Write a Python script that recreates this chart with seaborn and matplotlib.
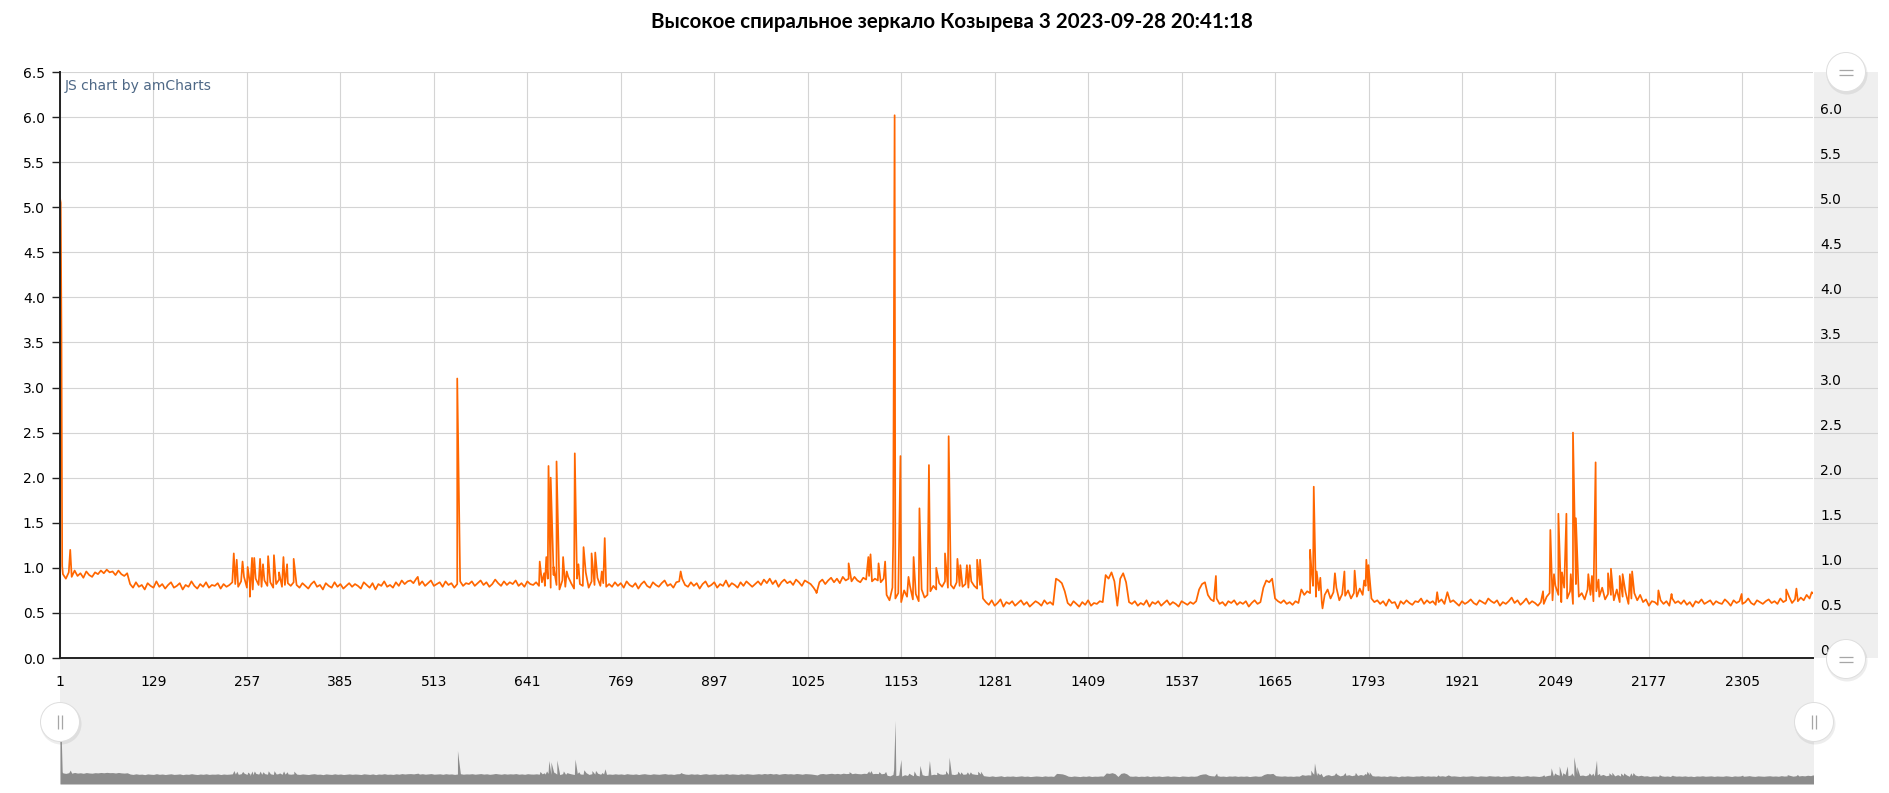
import numpy as np
import matplotlib
matplotlib.use("Agg")
import matplotlib.pyplot as plt
from matplotlib.patches import Circle
import seaborn as sns

# ---------------- data (values in hundredths, sampled every 4th point) ----------------
title = "Высокое спиральное зеркало Козырева 3 2023-09-28 20:41:18"

base_0001 = [510, 93, 88, 95, 90, 97, 91, 94, 89, 96, 92, 90, 95, 93, 97, 94, 98, 95, 96, 92, 97, 93, 91, 94,
             82, 78, 84, 79, 81, 76, 83, 80, 78, 85, 79, 82, 77, 81, 84, 78, 80, 83, 76, 81, 79, 85, 80, 77,
             82, 79, 84, 78, 81, 80, 83, 77, 82, 79, 81, 84]
base_0241 = [82, 79, 85, 90, 78, 83, 76, 88, 81, 79, 86, 80, 84, 78, 82, 87, 79, 81, 83, 80, 84,
             81, 78, 83, 80, 77, 82, 85, 79, 81, 76, 83, 80, 78, 84, 79, 82, 77, 80, 83,
             79, 82, 80, 77, 84, 81, 78, 83, 76, 82, 80, 85, 79, 81, 78, 84, 80, 86, 82, 85,
             86, 83, 88, 81, 85, 80, 83, 86, 80, 82, 84, 79, 85, 81, 83, 78, 82, 85, 80, 83,
             82, 85, 80, 83, 86, 81, 84, 79, 82, 87, 83, 80, 85, 81, 84, 82, 86, 80, 83, 79, 85, 82, 81, 84, 80]
base_0661 = [84, 80, 88, 78, 92, 81, 76, 86, 79, 90, 83, 77, 88, 82, 80, 95, 78, 85, 81, 89, 80, 83, 79,
             82, 79, 84, 80, 83, 78, 85, 81, 79, 83, 77, 82, 85, 80, 78, 84, 81, 79, 83, 86, 80, 82, 78, 84, 85,
             88, 81, 79, 84, 80, 83, 77, 82, 85, 79, 81, 84, 78, 82, 80, 86, 79, 83, 81, 78, 84, 80, 85, 82, 79,
             82, 85, 81, 87, 83, 88, 82, 86, 79, 84, 87, 83, 85, 81, 87, 84, 80, 86, 84, 82,
             78, 73, 84, 87, 82, 86, 89, 84, 88, 83, 90, 86,
             88, 85, 90, 86, 84, 89, 87, 91, 85, 88, 86, 84, 88]
base_1133 = [70, 64, 78, 66, 72, 62, 75, 68, 80, 65, 71, 63, 76, 67, 70, 74,
             80, 76, 83, 79, 85, 78, 81, 77, 84, 80, 79, 82, 78, 85, 80, 77, 81, 66,
             62, 59, 64, 58, 61, 65, 57, 62, 60, 63, 58, 61, 64, 59, 62, 57, 60, 63, 61, 58, 64, 60, 62, 59,
             88, 86, 83, 74,
             61, 58, 63, 60, 57, 62, 59, 64, 58, 61, 60, 63, 62,
             92, 88, 95, 85, 58, 88, 94, 84, 62]
base_1469 = [60, 63, 58, 61, 59, 64, 57, 62, 60, 63, 58, 61, 64, 59, 62, 60, 57, 63, 61, 59, 62, 60, 63,
             76, 82, 84, 70,
             65, 63, 66, 60, 62, 58, 63, 61, 64, 59, 62, 60, 63, 57, 61, 64, 60, 62,
             78, 86, 84, 88, 66,
             63, 61, 64, 60, 62, 59, 63, 61, 76,
             70, 74, 72, 80, 68, 75, 62, 70, 76, 66, 73, 78, 64, 71, 69, 75, 66, 72, 68, 77, 70, 80, 75]
base_1797 = [66, 62, 64, 60, 63, 58, 65, 61, 62, 55, 63, 60, 64, 61, 59, 63, 62, 66, 60, 64,
             61, 63, 59, 62, 65, 60, 73, 62, 64, 61, 58, 63, 60, 62, 65, 61, 59, 64, 62, 60,
             66, 63, 61, 64, 58, 62, 60, 63, 67, 61, 64, 59, 62, 66, 60, 63, 61, 58, 62, 60,
             68, 72, 64, 80, 70, 62, 78, 66, 74, 60, 82, 68, 72, 65, 76, 70, 63, 74, 68, 78, 65, 71,
             70, 64, 76, 62, 68, 73, 60, 66, 72, 64, 70, 62, 65, 58, 63]
base_2185 = [62, 59, 64, 60, 63, 58, 66, 61, 63, 60, 64, 59, 62, 57, 63, 61, 65, 60, 62, 64,
             59, 63, 61, 60, 65, 62, 58, 64, 61, 63, 60, 62, 66, 61, 59, 64, 62, 60, 63, 65,
             61, 63, 60, 66, 62, 64, 68, 61, 65, 63, 67, 64, 70, 66, 72]
base_starts = [1, 241, 661, 1133, 1469, 1797, 2185]

spike_idx = [2, 3, 4, 15,
             239, 243, 251, 258, 261, 264, 267, 275, 279, 286, 294, 301, 307, 312, 321,
             491, 545,
             658, 664, 667, 670, 673, 677, 681, 690, 695, 706, 711, 718, 729, 734, 743, 747,
             851, 1037, 1081, 1108, 1111,
             1122, 1131, 1142, 1144, 1152, 1163, 1170, 1178, 1191, 1201, 1213, 1218, 1230, 1234,
             1243, 1247, 1257, 1261,
             1584,
             1713, 1715, 1718, 1722, 1727, 1730, 1747, 1760, 1774, 1787, 1790, 1793,
             1887,
             2032, 2042, 2047, 2053, 2058, 2064, 2070, 2073, 2077, 2080, 2094, 2099, 2104, 2108,
             2121, 2125, 2137, 2141, 2151, 2154,
             2190, 2208, 2304, 2365, 2379, 2400]
spike_val = [5.05, 3.60, 1.02, 1.20,
             1.16, 1.09, 1.07, 1.01, 0.68, 1.11, 1.11, 1.10, 1.04, 1.13, 1.14, 0.95, 1.12, 1.04, 1.10,
             0.90, 3.10,
             1.07, 0.94, 1.12, 2.13, 2.00, 1.01, 2.18, 1.12, 0.96, 2.27, 1.04, 1.23, 1.16, 1.17, 0.96, 1.33,
             0.96, 0.72, 1.05, 1.12, 1.15,
             1.05, 1.07, 1.27, 6.02, 2.24, 0.90, 1.12, 1.66, 2.14, 1.00, 1.16, 2.46, 1.10, 1.03,
             1.03, 1.03, 1.09, 1.09,
             0.91,
             1.20, 0.96, 1.90, 0.96, 0.89, 0.55, 0.94, 0.96, 0.97, 0.86, 1.09, 1.03,
             0.73,
             0.74, 1.42, 0.93, 1.60, 0.95, 1.60, 0.93, 2.50, 1.55, 0.91, 0.93, 0.91, 2.17, 0.87,
             0.94, 0.99, 0.91, 0.93, 0.93, 0.96,
             0.75, 0.71, 0.71, 0.76, 0.77, 0.73]

x_ticks = [1, 129, 257, 385, 513, 641, 769, 897, 1025, 1153, 1281, 1409, 1537, 1665, 1793, 1921, 2049, 2177, 2305]
y_ticks = [0.0, 0.5, 1.0, 1.5, 2.0, 2.5, 3.0, 3.5, 4.0, 4.5, 5.0, 5.5, 6.0, 6.5]
right_ticks = [0.5, 1.0, 1.5, 2.0, 2.5, 3.0, 3.5, 4.0, 4.5, 5.0, 5.5, 6.0]

# ---------------- assemble series ----------------
bases = [base_0001, base_0241, base_0661, base_1133, base_1469, base_1797, base_2185]
xs_l, ys_l = [], []
for st, vals in zip(base_starts, bases):
    xs_l.append(st + 4 * np.arange(len(vals)))
    ys_l.append(np.array(vals) / 100.0)
xs_l.append(np.array(spike_idx))
ys_l.append(np.array(spike_val))
xs = np.concatenate(xs_l).astype(float)
ys = np.concatenate(ys_l)
order = np.argsort(xs, kind="stable")
xs, ys = xs[order], ys[order]

# ---------------- figure ----------------
W, H = 1889, 793
fig = plt.figure(figsize=(W / 100, H / 100), dpi=100)
fig.patch.set_facecolor("white")

def fx(px):
    return px / W

def fy(py):
    return 1 - py / H

X0, X1, Y0, Y1 = 60, 1813, 72, 658
XMAX = 1 + (X1 - X0) / 0.7302
GRID = "#d4d4d4"
FS = 10

# scrollbar background + mini graph
axs = fig.add_axes([fx(X0), fy(784), fx(1814) - fx(X0), fy(658) - fy(784)], zorder=1)
axs.set_facecolor("#efefef")
axs.set_xlim(1, XMAX)
axs.set_ylim(-0.15, -0.15 + 126 / 10.3)
axs.fill_between(xs, -0.15, ys, color="#8c8c8c", lw=0)
axs.set_xticks([]); axs.set_yticks([])
for s in axs.spines.values():
    s.set_visible(False)

# right grey value panel
axr = fig.add_axes([fx(1814), fy(Y1), fx(1878) - fx(1814), fy(Y0) - fy(Y1)], zorder=1)
axr.set_facecolor("#efefef")
axr.set_xlim(0, 1); axr.set_ylim(0, 6.5)
for v in right_ticks:
    axr.axhline(v, color=GRID, lw=0.8)
axr.set_xticks([]); axr.set_yticks([])
for s in axr.spines.values():
    s.set_visible(False)
for v in right_ticks:
    axr.text(0.1, v + 3 / 90.15, f"{v:.1f}", ha="left", va="baseline", fontsize=FS,
             family="DejaVu Sans", color="#000000")
axr.text(0.1, 3 / 90.15, "0", ha="left", va="baseline", fontsize=FS, family="DejaVu Sans", color="#000000")

# main chart
ax = fig.add_axes([fx(X0), fy(Y1), fx(X1) - fx(X0), fy(Y0) - fy(Y1)], zorder=3)
ax.set_facecolor("white")
sns.lineplot(x=xs, y=ys, ax=ax, color="#FF6600", linewidth=1.25, estimator=None, sort=False, errorbar=None)
ax.set_xlim(1, XMAX)
ax.set_ylim(0, 6.5)
ax.set_xticks(x_ticks)
ax.set_xticklabels([str(t) for t in x_ticks])
ax.set_yticks(y_ticks)
ax.set_yticklabels([f"{v:.1f}" for v in y_ticks])
ax.grid(True, color=GRID, lw=0.8)
ax.set_axisbelow(True)
ax.set_xlabel(""); ax.set_ylabel("")
for side in ["top", "right"]:
    ax.spines[side].set_visible(False)
for side in ["left", "bottom"]:
    ax.spines[side].set_color("#222222")
    ax.spines[side].set_linewidth(1.4)
ax.tick_params(axis="y", length=6, width=1, color="#222222", pad=5, labelsize=FS, labelcolor="#000000")
ax.tick_params(axis="x", length=0, pad=12, labelsize=FS, labelcolor="#000000")
for lab in ax.get_xticklabels() + ax.get_yticklabels():
    lab.set_family("DejaVu Sans")

# overlay: title, credit, buttons
ov = fig.add_axes([0, 0, 1, 1], zorder=20)
ov.set_xlim(0, W); ov.set_ylim(H, 0)
ov.axis("off")
ov.patch.set_alpha(0)

t = fig.text(fx(952), fy(22), title, ha="center", va="center", fontsize=16, fontweight="bold",
             family=["Lato", "Open Sans", "DejaVu Sans"], color="#000000", zorder=30)
fig.canvas.draw()
bb = t.get_window_extent()
t.set_fontsize(16 * 603 / bb.width)

ov.text(65, 86, "JS chart by amCharts", ha="left", va="center", fontsize=FS,
        family="DejaVu Sans", color="#4e6886")

def button(cx, cy, kind):
    ov.add_patch(Circle((cx + 1, cy + 2), 20.5, facecolor="black", alpha=0.07, lw=0))
    ov.add_patch(Circle((cx, cy), 19.5, facecolor="white", edgecolor="#dedede", lw=0.7))
    if kind == "h":
        for d in (-2.5, 2.5):
            ov.plot([cx - 7, cx + 7], [cy + d, cy + d], color="#a6a6a6", lw=0.9, solid_capstyle="butt")
    else:
        for d in (-2, 2):
            ov.plot([cx + d, cx + d], [cy - 7, cy + 7], color="#a6a6a6", lw=0.9, solid_capstyle="butt")

button(1846, 72, "h")
button(1846, 659, "h")
button(60, 722, "v")
button(1814, 722, "v")

fig.savefig("out.png", dpi=100, facecolor="white")
